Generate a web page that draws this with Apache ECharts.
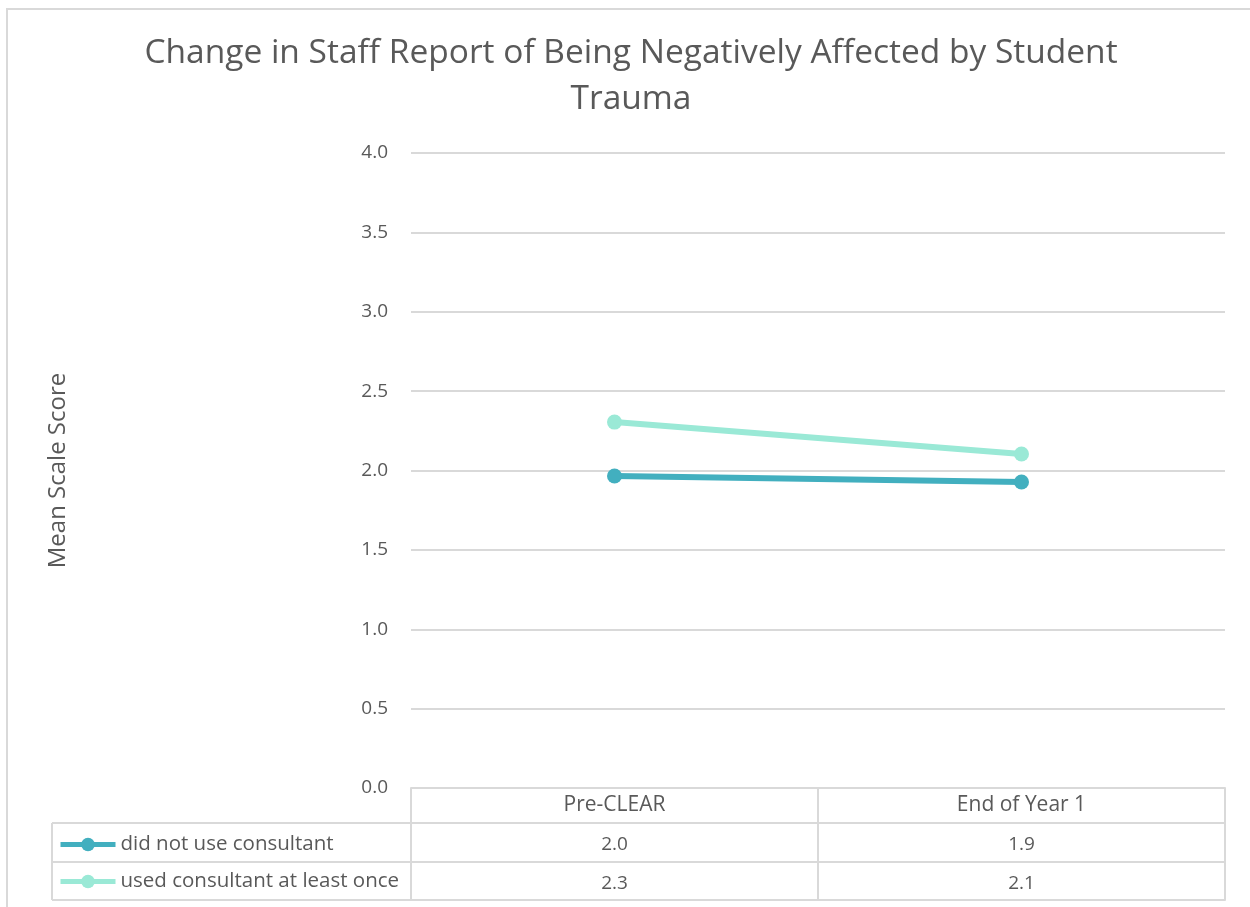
<!DOCTYPE html>
<html>
<head>
<meta charset="utf-8">
<script src="https://cdn.jsdelivr.net/npm/echarts@6/dist/echarts.min.js"></script>
<style>html,body{margin:0;padding:0;background:#fff}#c{width:1250px;height:907px}</style>
</head>
<body>
<div id="c"></div>
<script>
const categories = ['Pre-CLEAR', 'End of Year 1'];
const seriesNames = ['did not use consultant', 'used consultant at least once'];
const didNotUse = [1.965, 1.928];
const usedOnce = [2.305, 2.104];
const yTicks = { min: 0, max: 4, interval: 0.5 };
const titleText = 'Change in Staff Report of Being Negatively Affected by Student\nTrauma';
const yName = 'Mean Scale Score';

const FONT = '"Open Sans", "Noto Sans", sans-serif';
const TEXT = '#595959';
const LINE = '#d9d9d9';
const colors = ['#42afbf', '#9ae9d6'];

const G = { left: 411, right: 25, top: 153, bottom: 119 };
const rows = [35, 39, 38]; // header row, row 1, row 2 heights
const tableLeft = 52;

const chart = echarts.init(document.getElementById('c'));
const H = 907, W = 1250;
const axisY = H - G.bottom;
const rowTops = [axisY, axisY + rows[0], axisY + rows[0] + rows[1], axisY + rows[0] + rows[1] + rows[2]];
const allSeries = [didNotUse, usedOnce];

function tableAxis(i) {
  const offset = rowTops[i] - axisY;
  const isLast = i === 3;
  return {
    type: 'category',
    gridIndex: 0,
    position: 'bottom',
    offset: offset,
    data: categories,
    boundaryGap: true,
    axisLine: { show: true, lineStyle: { color: LINE, width: 2 } },
    axisTick: { show: !isLast, length: isLast ? 0 : rows[i], alignWithLabel: false, interval: 0, lineStyle: { color: LINE, width: 2 } },
    axisLabel: {
      show: !isLast,
      interval: 0,
      margin: i === 0 ? 7 : 12,
      color: TEXT,
      fontFamily: FONT,
      fontSize: i === 0 ? 21 : 19,
      formatter: (v, idx) => i === 0 ? v : allSeries[i - 1][idx].toFixed(1)
    },
    splitLine: { show: false }
  };
}

const option = {
  backgroundColor: '#fff',
  animation: false,
  title: {
    text: titleText,
    top: 25,
    textAlign: 'center',
    left: 626,
    textStyle: { color: TEXT, fontFamily: FONT, fontSize: 33.5, fontWeight: 'normal', lineHeight: 46 }
  },
  legend: {
    orient: 'vertical',
    left: 53,
    top: rowTops[1] + 6,
    itemWidth: 55,
    itemHeight: 17,
    itemGap: 16,
    data: seriesNames.map((n, i) => ({ name: n, lineStyle: { width: 5, color: colors[i] }, itemStyle: { color: colors[i] } })),
    textStyle: { color: TEXT, fontFamily: FONT, fontSize: 20.5, lineHeight: 21, padding: [0, 0, 0, 0] }
  },
  grid: { left: G.left, right: G.right, top: G.top, bottom: G.bottom, containLabel: false },
  xAxis: [0, 1, 2, 3].map(tableAxis),
  yAxis: {
    type: 'value',
    min: yTicks.min, max: yTicks.max, interval: yTicks.interval,
    name: yName,
    nameLocation: 'middle',
    nameGap: 341,
    nameTextStyle: { color: TEXT, fontFamily: FONT, fontSize: 24 },
    axisLine: { show: false },
    axisTick: { show: false },
    axisLabel: { color: TEXT, fontFamily: FONT, fontSize: 19, margin: 23, formatter: v => v.toFixed(1) },
    splitLine: { lineStyle: { color: LINE, width: 2 } }
  },
  series: [
    { name: seriesNames[0], type: 'line', data: didNotUse, symbol: 'circle', symbolSize: 15,
      lineStyle: { width: 6, color: colors[0] }, itemStyle: { color: colors[0] }, z: 3 },
    { name: seriesNames[1], type: 'line', data: usedOnce, symbol: 'circle', symbolSize: 15,
      lineStyle: { width: 6, color: colors[1] }, itemStyle: { color: colors[1] }, z: 2 }
  ],
  graphic: [
    { type: 'rect', shape: { x: 7, y: 9, width: 1400, height: 1000 }, style: { fill: 'none', stroke: LINE, lineWidth: 2 }, z: -1, silent: true },
    { type: 'line', shape: { x1: tableLeft, y1: rowTops[1], x2: G.left, y2: rowTops[1] }, style: { stroke: LINE, lineWidth: 2 } },
    { type: 'line', shape: { x1: tableLeft, y1: rowTops[2], x2: G.left, y2: rowTops[2] }, style: { stroke: LINE, lineWidth: 2 } },
    { type: 'line', shape: { x1: tableLeft, y1: rowTops[3], x2: G.left, y2: rowTops[3] }, style: { stroke: LINE, lineWidth: 2 } },
    { type: 'line', shape: { x1: tableLeft, y1: rowTops[1], x2: tableLeft, y2: rowTops[3] }, style: { stroke: LINE, lineWidth: 2 } },
    { type: 'line', shape: { x1: G.left, y1: rowTops[1], x2: G.left, y2: rowTops[3] }, style: { stroke: LINE, lineWidth: 2 } }
  ]
};
chart.setOption(option);
</script>
</body>
</html>
